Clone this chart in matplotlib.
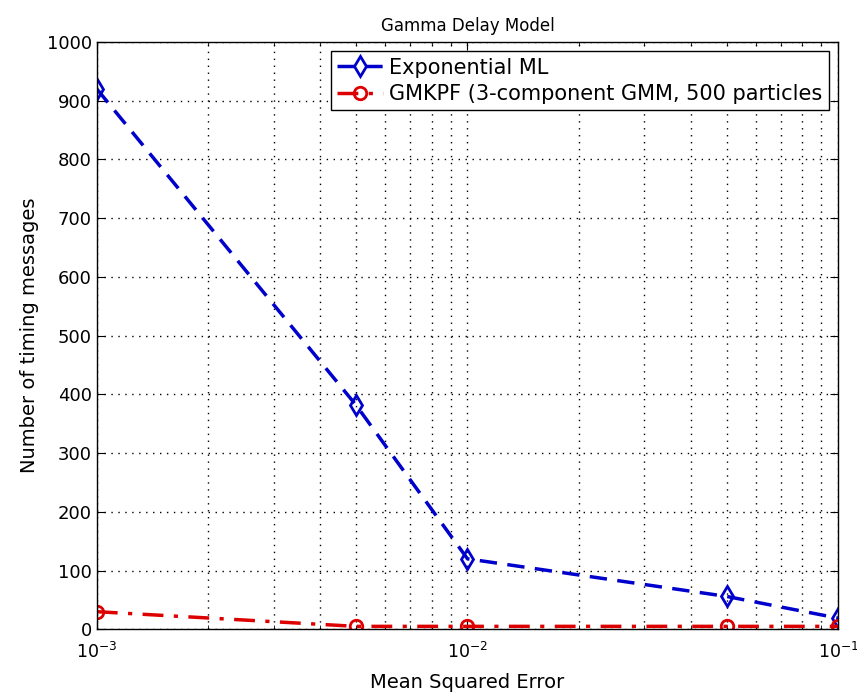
import matplotlib
matplotlib.use('Agg')
from matplotlib import pyplot as plt

mse = [1e-3, 5e-3, 1e-2, 5e-2, 1e-1]
exp_ml = [920, 382, 120, 56, 19]
gmkpf = [30, 5, 5, 5, 5]

plt.rcParams['font.family'] = ['DejaVu Sans']
plt.rcParams['mathtext.default'] = 'regular'

fig = plt.figure(figsize=(8.57, 7), dpi=100)
ax = fig.add_axes([0.113, 0.101, 0.865, 0.839])

ax.plot(mse, exp_ml, color='#0000cc', linestyle=(0, (5, 3)), linewidth=2.5,
        marker='d', markersize=10, markerfacecolor='none', markeredgewidth=2,
        label='Exponential ML')
ax.plot(mse, gmkpf, color='#dd0000', linestyle=(0, (6, 3, 1.2, 3)), linewidth=2.5,
        marker='o', markersize=9, markerfacecolor='none', markeredgewidth=2,
        label='GMKPF (3-component GMM, 500 particles')

ax.set_xscale('log')
ax.set_xlim(1e-3, 1e-1)
ax.set_ylim(0, 1000)
ax.set_yticks(range(0, 1001, 100))
ax.grid(True, which='major', color='black', linestyle=(0, (1, 4)), linewidth=1)
ax.grid(True, which='minor', axis='x', color='black', linestyle=(0, (1, 4)), linewidth=1)
ax.tick_params(which='both', direction='in', top=True, right=True, labelsize=13)
ax.tick_params(which='major', length=6)
ax.tick_params(which='minor', length=3)
ax.tick_params(axis='x', pad=9, labelsize=12.5)

ax.set_title('Gamma Delay Model', fontsize=12, pad=8)
ax.set_xlabel('Mean Squared Error', fontsize=14, labelpad=8)
ax.set_ylabel('Number of timing messages', fontsize=14, labelpad=6)

leg = ax.legend(loc='upper right', fontsize=15, fancybox=False, framealpha=1,
                edgecolor='black', handlelength=2.2, handletextpad=0.3,
                borderaxespad=0.45, labelspacing=0.3, borderpad=0.3)
leg.get_frame().set_linewidth(1)

for s in ax.spines.values():
    s.set_linewidth(1)

fig.savefig('out.png', dpi=100)
